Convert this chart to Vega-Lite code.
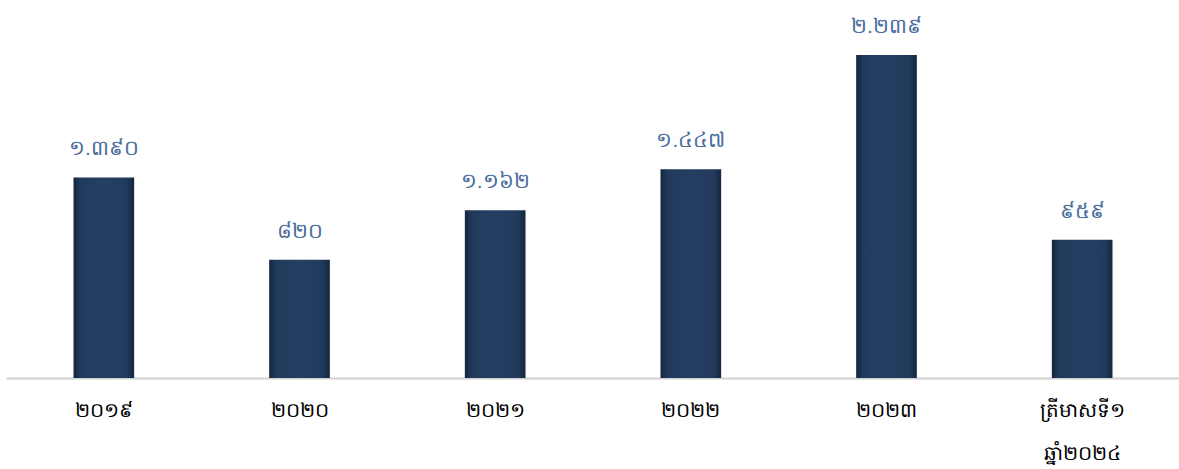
{
  "$schema": "https://vega.github.io/schema/vega-lite/v6.json",
  "width": 1174,
  "height": 378,
  "autosize": {"type": "none"},
  "padding": {"left": 6, "top": 0, "right": 0, "bottom": 91},
  "background": "white",
  "config": {"view": {"stroke": null}},
  "data": {
    "values": [
      {"year": "២០១៩", "value": 1390, "label": "១.៣៩០"},
      {"year": "២០២០", "value": 820, "label": "៨២០"},
      {"year": "២០២១", "value": 1162, "label": "១.១៦២"},
      {"year": "២០២២", "value": 1447, "label": "១.៤៤៧"},
      {"year": "២០២៣", "value": 2239, "label": "២.២៣៩"},
      {"year": "ត្រីមាសទី១\nឆ្នាំ២០២៤", "value": 959, "label": "៩៥៩"}
    ]
  },
  "encoding": {
    "x": {
      "field": "year",
      "type": "nominal",
      "sort": null,
      "scale": {"paddingInner": 0.69, "paddingOuter": 0.345},
      "axis": {
        "title": null,
        "labelAngle": 0,
        "labelFontSize": 20,
        "labelFontWeight": "normal",
        "labelColor": "#000000",
        "labelPadding": 22,
        "labelLineHeight": 43,
        "labelExpr": "split(datum.label, '\\n')",
        "ticks": false,
        "domainColor": "#d0d0d0",
        "domainWidth": 2,
        "grid": false
      }
    },
    "y": {
      "field": "value",
      "type": "quantitative",
      "scale": {"domain": [0, 2620]},
      "axis": null
    }
  },
  "layer": [
    {
      "mark": {
        "type": "bar",
        "color": {
          "gradient": "linear",
          "x1": 0, "y1": 0, "x2": 1, "y2": 0,
          "stops": [
            {"offset": 0, "color": "#15263d"},
            {"offset": 0.12, "color": "#213a5c"},
            {"offset": 0.5, "color": "#253f63"},
            {"offset": 0.88, "color": "#213a5c"},
            {"offset": 1, "color": "#15263d"}
          ]
        }
      }
    },
    {
      "mark": {"type": "text", "baseline": "bottom", "dy": -18, "fontSize": 21, "fontWeight": "normal", "color": "#4a6d9c"},
      "encoding": {"text": {"field": "label"}}
    }
  ]
}
